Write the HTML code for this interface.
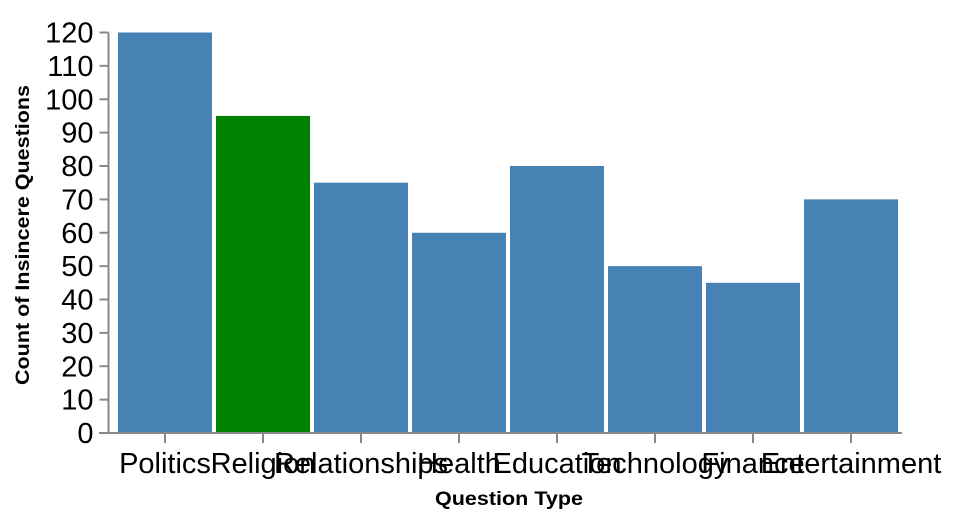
<!DOCTYPE html>
<html><head><meta charset="utf-8"><style>
body{margin:0;background:#fff;}
svg{display:block;font-family:"Liberation Sans",Arial,sans-serif;}
</style></head><body>
<svg id="chart" width="960" height="518"></svg>
<script>
const categories=["Politics","Religion","Relationships","Health","Education","Technology","Finance","Entertainment"];
const counts=[120,95,75,60,80,50,45,70];
const highlight=["Religion"];
const yTicks=[0,10,20,30,40,50,60,70,80,90,100,110,120];

const NS="http://www.w3.org/2000/svg";
const svg=document.getElementById('chart');
const x0=116,x1=900,y0=433,y1=32.5,yMax=120,axisX=108.5;
const band=(x1-x0)/categories.length,pad=4;
const y=v=>y0-(v/yMax)*(y0-y1);
const xb=i=>x0+i*band;
function mk(t,a){const e=document.createElementNS(NS,t);for(const k in a)e.setAttribute(k,a[k]);svg.appendChild(e);return e;}

categories.forEach((c,i)=>{
  const r=mk('rect',{x:xb(i)+pad/2,y:y(counts[i]),width:band-pad,height:y0-y(counts[i]),fill:highlight.includes(c)?'#008000':'#4682b4'});
  
  
});
const ya=mk('line',{x1:axisX,y1:y1,x2:axisX,y2:y0,stroke:'#888','stroke-width':2});


yTicks.forEach(t=>{
  const tk=mk('line',{x1:axisX-9,x2:axisX,y1:y(t),y2:y(t),stroke:'#888','stroke-width':2});
  
  
  const tl=mk('text',{x:axisX-15,y:y(t)+10,'text-anchor':'end','font-size':29,fill:'#000'});
  tl.textContent=t;
  
  
});
const xa=mk('line',{x1:99,y1:y0,x2:x1+2,y2:y0,stroke:'#888','stroke-width':2});


categories.forEach((c,i)=>{
  const cx=xb(i)+band/2;
  const tk=mk('line',{x1:cx,x2:cx,y1:y0,y2:y0+10,stroke:'#888','stroke-width':2});
  
  
  const tl=mk('text',{x:cx,y:473,'text-anchor':'middle','font-size':29,fill:'#000'});
  tl.textContent=c;
  
  
});
const xt=mk('text',{x:509,y:505,'text-anchor':'middle','font-size':19,'font-weight':'bold',fill:'#000',textLength:148,lengthAdjust:'spacingAndGlyphs'});
xt.textContent='Question Type';


const yt=mk('text',{x:0,y:0,'text-anchor':'middle','font-size':19,'font-weight':'bold',fill:'#000',textLength:300,lengthAdjust:'spacingAndGlyphs',transform:'translate(29,235) rotate(-90)'});
yt.textContent='Count of Insincere Questions';


</script>
</body></html>
